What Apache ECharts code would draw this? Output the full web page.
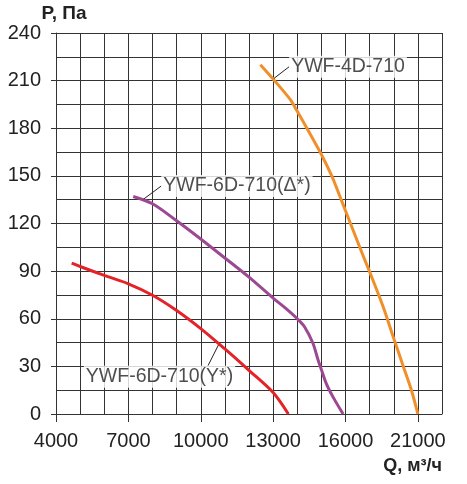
<!DOCTYPE html>
<html><head><meta charset="utf-8">
<script src="https://cdn.jsdelivr.net/npm/echarts@6/dist/echarts.min.js"></script>
<style>html,body{margin:0;padding:0;background:#fff}#c{width:467px;height:484px}</style>
</head><body><div id="c"></div>
<script>
// Tick labels (the x axis in the picture is not uniform: 16000 -> 21000 spans one label step)
const xTickLabels = [4000, 7000, 10000, 13000, 16000, 21000];
const yTickLabels = [0, 30, 60, 90, 120, 150, 180, 210, 240];

const seriesNames = ['YWF-6D-710(Y*)', 'YWF-6D-710(Δ*)', 'YWF-4D-710'];

// YWF-6D-710(Y*)
const qY = [4650, 5000, 6000, 7000, 8000, 9000, 10000, 11000, 11600, 12000, 13000, 13630];
const pY = [95, 92.9, 87.3, 82, 74.8, 65.2, 53.8, 41, 33, 27.5, 13.5, 0];
// YWF-6D-710(Δ*)
const qD = [7200, 8000, 9000, 10000, 11000, 12000, 13000, 13500, 14000, 14300, 14650, 14860, 15000, 15200, 15480, 15900];
const pD = [137, 132.4, 121.7, 110.2, 98.3, 86.2, 73, 66.8, 60, 55, 44.6, 34.2, 28, 19.3, 10.8, 0];
// YWF-4D-710
const q4 = [12470, 13000, 13700, 14000, 14400, 15000, 15430, 15770, 16000, 16730, 17380, 17650, 18600, 19300, 20000, 20550, 21000];
const p4 = [220, 211, 198.3, 190.7, 180, 163.5, 150, 137, 128, 111, 96, 90, 67.6, 48.5, 29.8, 15.1, 0];

// annotation anchor points on the curves
const annQ = [10750, 7600, 13000];
const annP = [44, 135, 211];

const colors = ['#e42328', '#9c4893', '#f18f2a'];

// piecewise-linear mapping between Q values and evenly spaced label positions
const step = 3000;
function toAxis(q) {
  let i = 0;
  while (i < xTickLabels.length - 2 && q > xTickLabels[i + 1]) i++;
  const a = xTickLabels[i], b = xTickLabels[i + 1];
  return xTickLabels[0] + step * (i + (q - a) / (b - a));
}
function fromAxis(v) {
  const t = (v - xTickLabels[0]) / step;
  const i = Math.max(0, Math.min(Math.floor(t + 1e-9), xTickLabels.length - 2));
  const a = xTickLabels[i], b = xTickLabels[i + 1];
  return a + (b - a) * (t - i);
}
const xTickPos = xTickLabels.map(toAxis);
const xMin = xTickPos[0];
const xMax = xTickPos[xTickPos.length - 1] + 1000;

function pts(q, p) { return q.map((v, i) => [toAxis(v), p[i]]); }

const font = '"Liberation Sans", Arial, sans-serif';
const gridColor = '#333';
const textColor = '#222';

const chart = echarts.init(document.getElementById('c'), null, {renderer: 'canvas'});
const lineSeries = [[qY, pY], [qD, pD], [q4, p4]].map((d, k) => ({
  type: 'line',
  name: seriesNames[k],
  data: pts(d[0], d[1]),
  smooth: 0.3,
  showSymbol: false,
  lineStyle: {color: colors[k], width: 3},
  z: 3
}));

const labelLayoutCfg = [
  {dx: -136, dy: 32.5, padRight: 97},
  {dx: 17.4, dy: -13.7, padRight: 0},
  {dx: 15, dy: -12.3, padRight: 0}
];

const annSeries = {
  type: 'scatter',
  symbol: 'circle',
  symbolSize: 2,
  silent: true,
  itemStyle: {color: 'rgba(0,0,0,0)'},
  z: 5,
  data: annQ.map((q, i) => ({
    value: [toAxis(q), annP[i]],
    label: {
      show: true,
      formatter: '{t|' + seriesNames[i] + '}',
      position: 'right',
      distance: 0,
      backgroundColor: 'rgba(255,255,255,0)',
      padding: [0, labelLayoutCfg[i].padRight, 0, 0],
      rich: {
        t: {fontFamily: font, fontSize: 19.5, color: textColor, backgroundColor: '#fff', padding: [1, 2, 1, 2]}
      }
    }
  })),
  labelLayout: function (params) {
    const o = labelLayoutCfg[params.dataIndex];
    return {dx: o.dx, dy: o.dy};
  },
  labelLine: {show: true, smooth: false, length2: 0, lineStyle: {color: textColor, width: 1}}
};

chart.setOption({
  backgroundColor: '#fff',
  animation: false,
  grid: {left: 56, right: 25, top: 33, bottom: 70},
  xAxis: [{
    type: 'value',
    min: xMin, max: xMax, interval: 1000,
    position: 'bottom',
    axisLine: {show: true, lineStyle: {color: gridColor, width: 1}},
    axisTick: {show: false},
    axisLabel: {show: false},
    splitLine: {show: true, lineStyle: {color: gridColor, width: 1}}
  }, {
    type: 'value',
    min: xMin, max: xMax, interval: 1000,
    position: 'bottom',
    name: 'Q, м³/ч',
    nameLocation: 'end',
    nameGap: 0,
    nameTextStyle: {fontFamily: font, fontSize: 18, fontWeight: 'bold', color: textColor, align: 'right', verticalAlign: 'top', padding: [43, 0, 0, 0]},
    axisLine: {show: false},
    axisTick: {show: true, length: 8, customValues: xTickPos, lineStyle: {color: gridColor}},
    axisLabel: {customValues: xTickPos, formatter: v => String(Math.round(fromAxis(v))), fontFamily: font, fontSize: 20, color: textColor, margin: 17},
    splitLine: {show: false}
  }],
  yAxis: [{
    type: 'value',
    min: 0, max: 240, interval: 15,
    position: 'left',
    axisLine: {show: true, lineStyle: {color: gridColor, width: 1}},
    axisTick: {show: false},
    axisLabel: {show: false},
    splitLine: {show: true, lineStyle: {color: gridColor, width: 1}}
  }, {
    type: 'value',
    min: 0, max: 240, interval: 15,
    position: 'left',
    name: 'P, Па',
    nameLocation: 'end',
    nameGap: 7,
    nameTextStyle: {fontFamily: font, fontSize: 19, fontWeight: 'bold', color: textColor, align: 'center', padding: [0, 0, 0, 16]},
    axisLine: {show: false},
    axisTick: {show: true, length: 5, customValues: yTickLabels, lineStyle: {color: gridColor}},
    axisLabel: {customValues: yTickLabels, fontFamily: font, fontSize: 20, color: textColor, margin: 15},
    splitLine: {show: false}
  }],
  series: lineSeries.concat([annSeries])
});
</script>
</body></html>
